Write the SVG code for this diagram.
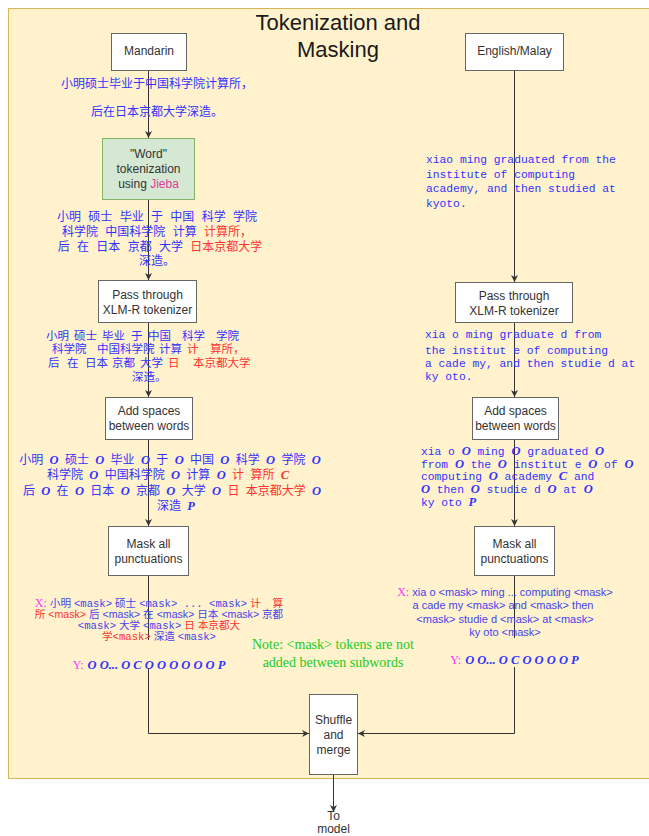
<svg xmlns="http://www.w3.org/2000/svg" width="649" height="836" viewBox="0 0 649 836">
<defs>
<style>
.box{fill:#ffffff;stroke:#666666;stroke-width:1}
.lbl{font-family:"Liberation Sans","Noto Sans CJK SC",sans-serif;font-size:12px;fill:#333333;text-anchor:middle}
.zh{font-family:"Liberation Sans","Noto Sans CJK SC",sans-serif;font-size:12px;fill:#3333ff}
.zs{font-family:"Liberation Sans","Noto Sans CJK SC",sans-serif;font-size:11.5px;fill:#3333ff}
.xs{font-family:"Liberation Sans","Noto Sans CJK SC",sans-serif;font-size:11px;fill:#4444ee}
.xz{font-family:"Liberation Sans","Noto Sans CJK SC",sans-serif;font-size:10.6px;fill:#4444ee}
.mono{font-family:"Liberation Mono","Noto Sans CJK SC",monospace;font-size:11.3px;fill:#3333ff}
.m{font-family:"Liberation Mono",monospace}
.o{font-family:"Liberation Serif",serif;font-weight:bold;font-style:italic;font-size:12.5px}
.r{fill:#ff3333}
.mg{fill:#ff33ff;font-family:"Liberation Serif",serif;font-size:12px}
.y{font-family:"Liberation Serif",serif;font-weight:bold;font-style:italic;font-size:12.5px;fill:#3333ff}
.note{font-family:"Liberation Serif",serif;font-size:14px;fill:#22cc22;text-anchor:middle}
.conn{stroke:#333333;fill:none;stroke-width:1}
</style>
<marker id="arr" viewBox="0 0 10 10" refX="10" refY="5" markerWidth="7" markerHeight="7" markerUnits="userSpaceOnUse" orient="auto">
<path d="M0,0 L10,5 L0,10 L3,5 z" fill="#333333"/>
</marker>
</defs>

<g id="container">
<rect x="8.5" y="8.5" width="670" height="770" fill="#fff2cc" stroke="#d6b656"/>
<text x="338" y="30" font-family="Liberation Sans, sans-serif" font-size="22" fill="#1a1a1a" text-anchor="middle">Tokenization and</text>
<text x="338" y="57" font-family="Liberation Sans, sans-serif" font-size="22" fill="#1a1a1a" text-anchor="middle">Masking</text>
</g>

<g id="connectors">
<path class="conn" d="M148.5,70 V138" marker-end="url(#arr)"/>
<path class="conn" d="M148.5,199 V280" marker-end="url(#arr)"/>
<path class="conn" d="M148.5,322 V397" marker-end="url(#arr)"/>
<path class="conn" d="M148.5,439 V526" marker-end="url(#arr)"/>
<path class="conn" d="M148.5,575 V640 M148.5,668 V733.5 H309" marker-end="url(#arr)"/>
<path class="conn" d="M514.5,70 V282" marker-end="url(#arr)"/>
<path class="conn" d="M514.5,322 V397" marker-end="url(#arr)"/>
<path class="conn" d="M514.5,439 V526" marker-end="url(#arr)"/>
<path class="conn" d="M514.5,575 V638 M514.5,667 V733.5 H358" marker-end="url(#arr)"/>
<path class="conn" d="M333.5,774 V812" marker-end="url(#arr)"/>
</g>

<g id="mandarin">
<rect class="box" x="111.5" y="33.5" width="75" height="37"/>
<text class="lbl" x="149" y="55">Mandarin</text>
</g>
<g id="english">
<rect class="box" x="465.5" y="33.5" width="98" height="37"/>
<text class="lbl" x="514.5" y="55">English/Malay</text>
</g>

<g id="zh-input">
<text class="zh" x="157" y="88" text-anchor="middle">小明硕士毕业于中国科学院计算所，</text>
<text class="zh" x="157" y="116" text-anchor="middle">后在日本京都大学深造。</text>
</g>

<g id="jieba">
<rect x="102.5" y="138.5" width="92" height="61" fill="#d5e8d4" stroke="#82b366"/>
<text class="lbl" x="148.5" y="158">"Word"</text>
<text class="lbl" x="148.5" y="173">tokenization</text>
<text class="lbl" x="148.5" y="188">using <tspan fill="#e6399b">Jieba</tspan></text>
</g>

<g id="zh-jieba">
<text class="zh" x="157" y="221" text-anchor="middle" word-spacing="4">小明 硕士 毕业 于 中国 科学 学院</text>
<text class="zh" x="157" y="236" text-anchor="middle" word-spacing="4">科学院 中国科学院 计算 <tspan class="r">计算所，</tspan></text>
<text class="zh" x="160" y="251" text-anchor="middle" word-spacing="4">后 在 日本 京都 大学 <tspan class="r">日本京都大学</tspan></text>
<text class="zh" x="157" y="265" text-anchor="middle">深造。</text>
</g>

<g id="xlmr-left">
<rect class="box" x="98.5" y="280.5" width="98" height="42"/>
<text class="lbl" x="147.5" y="299">Pass through</text>
<text class="lbl" x="147.5" y="314">XLM-R tokenizer</text>
</g>
<g id="xlmr-right">
<rect class="box" x="455.5" y="282.5" width="117" height="40"/>
<text class="lbl" x="514" y="300">Pass through</text>
<text class="lbl" x="514" y="315">XLM-R tokenizer</text>
</g>

<g id="zh-xlmr">
<text class="zs" y="340"><tspan x="46">小明</tspan><tspan x="74">硕士</tspan><tspan x="102">毕业</tspan><tspan x="131">于</tspan><tspan x="148">中国</tspan><tspan x="182">科学</tspan><tspan x="216">学院</tspan></text>
<text class="zs" y="353"><tspan x="52">科学院</tspan><tspan x="97">中国科学院</tspan><tspan x="159">计算</tspan><tspan x="187" class="r">计</tspan><tspan x="210" class="r">算所，</tspan></text>
<text class="zs" y="367"><tspan x="48">后</tspan><tspan x="67">在</tspan><tspan x="85">日本</tspan><tspan x="112">京都</tspan><tspan x="140">大学</tspan><tspan x="168" class="r">日</tspan><tspan x="193" class="r">本京都大学</tspan></text>
<text class="zs" y="381"><tspan x="132">深造。</tspan></text>
</g>

<g id="en-input">
<text class="mono" x="426" y="163">xiao ming graduated from the</text>
<text class="mono" x="426" y="178">institute of computing</text>
<text class="mono" x="426" y="192">academy, and then studied at</text>
<text class="mono" x="426" y="207">kyoto.</text>
</g>

<g id="en-xlmr">
<text class="mono" x="425" y="338">xia o ming graduate d from</text>
<text class="mono" x="425" y="354">the institut e of computing</text>
<text class="mono" x="425" y="367">a cade my, and then studie d at</text>
<text class="mono" x="425" y="380">ky oto.</text>
</g>

<g id="spaces-left">
<rect class="box" x="105.5" y="397.5" width="87" height="42"/>
<text class="lbl" x="149" y="415">Add spaces</text>
<text class="lbl" x="149" y="430">between words</text>
</g>
<g id="spaces-right">
<rect class="box" x="472.5" y="397.5" width="86" height="42"/>
<text class="lbl" x="515.5" y="415">Add spaces</text>
<text class="lbl" x="515.5" y="430">between words</text>
</g>

<g id="zh-spaces">
<text class="zh" x="170" y="464" text-anchor="middle" word-spacing="3">小明 <tspan class="o">O</tspan> 硕士 <tspan class="o">O</tspan> 毕业 <tspan class="o">O</tspan> 于 <tspan class="o">O</tspan> 中国 <tspan class="o">O</tspan> 科学 <tspan class="o">O</tspan> 学院 <tspan class="o">O</tspan></text>
<text class="zh" x="168" y="479" text-anchor="middle" word-spacing="3">科学院 <tspan class="o">O</tspan> 中国科学院 <tspan class="o">O</tspan> 计算 <tspan class="o">O</tspan> <tspan class="r">计  算所 <tspan class="o">C</tspan></tspan></text>
<text class="zh" x="172" y="495" text-anchor="middle" word-spacing="3">后 <tspan class="o">O</tspan> 在 <tspan class="o">O</tspan> 日本 <tspan class="o">O</tspan> 京都 <tspan class="o">O</tspan> 大学 <tspan class="o">O</tspan> <tspan class="r">日 本京都大学</tspan> <tspan class="o">O</tspan></text>
<text class="zh" x="176" y="510" text-anchor="middle" word-spacing="3">深造 <tspan class="o">P</tspan></text>
</g>

<g id="en-spaces">
<text class="mono" x="421" y="455">xia o <tspan class="o">O</tspan> ming <tspan class="o">O</tspan> graduated <tspan class="o">O</tspan></text>
<text class="mono" x="421" y="468">from <tspan class="o">O</tspan> the <tspan class="o">O</tspan> institut e <tspan class="o">O</tspan> of <tspan class="o">O</tspan></text>
<text class="mono" x="421" y="480">computing <tspan class="o">O</tspan> academy <tspan class="o">C</tspan> and</text>
<text class="mono" x="421" y="493"><tspan class="o">O</tspan> then <tspan class="o">O</tspan> studie d <tspan class="o">O</tspan> at <tspan class="o">O</tspan></text>
<text class="mono" x="421" y="506">ky oto <tspan class="o">P</tspan></text>
</g>

<g id="mask-left">
<rect class="box" x="108.5" y="526.5" width="80" height="49"/>
<text class="lbl" x="148.5" y="548">Mask all</text>
<text class="lbl" x="148.5" y="563">punctuations</text>
</g>
<g id="mask-right">
<rect class="box" x="474.5" y="526.5" width="80" height="49"/>
<text class="lbl" x="514.5" y="548">Mask all</text>
<text class="lbl" x="514.5" y="563">punctuations</text>
</g>

<g id="zh-masked">
<text class="xz" x="159" y="606.5" text-anchor="middle" xml:space="preserve"><tspan class="mg">X:</tspan> 小明 <tspan class="m">&lt;mask&gt;</tspan> 硕士 <tspan class="m">&lt;mask&gt; ... &lt;mask&gt;</tspan> <tspan class="r">计    算</tspan></text>
<text class="xz" x="159" y="617.5" text-anchor="middle"><tspan class="r">所 &lt;mask&gt;</tspan> 后 &lt;mask&gt; 在 &lt;mask&gt; 日本 &lt;mask&gt; 京都</text>
<text class="xz" x="159" y="628.5" text-anchor="middle"><tspan class="m">&lt;mask&gt;</tspan> 大学 <tspan class="m">&lt;mask&gt;</tspan> <tspan class="r">日 本京都大</tspan></text>
<text class="xz" x="159" y="639.5" text-anchor="middle"><tspan class="r">学<tspan class="m">&lt;mask&gt;</tspan></tspan> 深造 <tspan class="m">&lt;mask&gt;</tspan></text>
<text x="149" y="669" text-anchor="middle"><tspan class="mg">Y:</tspan> <tspan class="y">O O... O C O O O O O O P</tspan></text>
</g>

<g id="en-masked">
<text class="xs" x="505" y="596" text-anchor="middle"><tspan class="mg">X:</tspan> xia o &lt;mask&gt; ming ... computing &lt;mask&gt;</text>
<text class="xs" x="503" y="609" text-anchor="middle">a cade my &lt;mask&gt; and &lt;mask&gt; then</text>
<text class="xs" x="505" y="623" text-anchor="middle">&lt;mask&gt; studie d &lt;mask&gt; at &lt;mask&gt;</text>
<text class="xs" x="505" y="636" text-anchor="middle">ky oto &lt;mask&gt;</text>
<text x="514.5" y="664" text-anchor="middle"><tspan class="mg">Y:</tspan> <tspan class="y">O O... O C O O O O P</tspan></text>
</g>

<g id="note">
<text class="note" x="333" y="649">Note: &lt;mask&gt; tokens are not</text>
<text class="note" x="333" y="667">added between subwords</text>
</g>

<g id="shuffle">
<rect class="box" x="309.5" y="694.5" width="48" height="80"/>
<text class="lbl" x="333.5" y="724">Shuffle</text>
<text class="lbl" x="333.5" y="739">and</text>
<text class="lbl" x="333.5" y="754">merge</text>
</g>

<g id="to-model">
<text class="lbl" x="333.5" y="820">To</text>
<text class="lbl" x="333.5" y="833">model</text>
</g>
</svg>
